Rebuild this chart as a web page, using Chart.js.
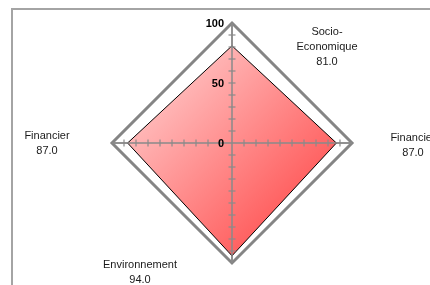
<!DOCTYPE html>
<html>
<head>
<meta charset="utf-8">
<script src="https://cdn.jsdelivr.net/npm/chart.js@4.4.0/dist/chart.umd.min.js"></script>
<style>
html, body { margin: 0; padding: 0; background: #fff; }
#wrap { position: relative; width: 430px; height: 285px; overflow: hidden; }
#frame { position: absolute; left: 11px; top: 8px; right: -5px; bottom: -5px;
  border-top: 2px solid #a4a4a4; border-left: 2px solid #a4a4a4; }
canvas { position: absolute; left: 0; top: 0; }
</style>
</head>
<body>
<div id="wrap">
  <div id="frame"></div>
  <canvas id="radarChart" width="430" height="285"></canvas>
</div>
<script>
// data
var categories = [["Socio-", "Economique"], ["Financier"], ["Environnement"], ["Financier"]];
var scores = [81, 87, 94, 87];
var tickLabels = [0, 50, 100];
var minorTicks = [10, 20, 30, 40, 50, 60, 70, 80, 90];

// where each category block sits, relative to the centre of the radar
var labelOffsets = [[95, -96], [181, 2], [-92, 129], [-185, 0]];

var radarDecor = {
	id: 'radarDecor',
	afterDatasetsDraw: function(chart) {
		var ctx = chart.ctx;
		var scale = chart.scales.r;
		var cx = scale.xCenter, cy = scale.yCenter;
		ctx.save();
		// axes drawn again over the filled area, with small tick marks
		ctx.strokeStyle = '#8a8a8a';
		for (var i = 0; i < scores.length; i++) {
			var end = scale.getPointPositionForValue(i, 100);
			ctx.lineWidth = 1.5;
			ctx.beginPath();
			ctx.moveTo(cx, cy);
			ctx.lineTo(end.x, end.y);
			ctx.stroke();
			var ang = scale.getIndexAngle(i) - Math.PI / 2;
			var px = -Math.sin(ang), py = Math.cos(ang);
			ctx.lineWidth = 1.2;
			minorTicks.forEach(function(v) {
				var p = scale.getPointPositionForValue(i, v);
				ctx.beginPath();
				ctx.moveTo(p.x - px * 3.5, p.y - py * 3.5);
				ctx.lineTo(p.x + px * 3.5, p.y + py * 3.5);
				ctx.stroke();
			});
		}
		// scale numbers along the vertical axis
		ctx.fillStyle = '#000';
		ctx.font = 'bold 11px "Liberation Sans", Arial, sans-serif';
		ctx.textAlign = 'right';
		ctx.textBaseline = 'middle';
		tickLabels.forEach(function(v) {
			var y = cy - scale.getDistanceFromCenterForValue(v);
			ctx.fillText(String(v), cx - 8, y + 1);
		});
		// category labels with values
		ctx.fillStyle = '#1a1a1a';
		ctx.font = '11px "Liberation Sans", Arial, sans-serif';
		ctx.textAlign = 'center';
		categories.forEach(function(lines, i) {
			var all = lines.concat([scores[i].toFixed(1)]);
			var bx = cx + labelOffsets[i][0], by = cy + labelOffsets[i][1];
			all.forEach(function(t, k) {
				ctx.fillText(t, bx, by + (k - (all.length - 1) / 2) * 15);
			});
		});
		ctx.restore();
	}
};

var ctx = document.getElementById("radarChart").getContext("2d");
var radarChart = new Chart(ctx, {
	type: 'radar',
	data: {
		labels: categories,
		datasets: [{
			label: 'Score',
			data: scores,
			backgroundColor: function(c) {
				var chart = c.chart;
				var s = chart.scales.r;
				if (!s || !isFinite(s.xCenter) || !isFinite(s.drawingArea)) return '#ff8080';
				var r = s.drawingArea;
				var g = chart.ctx.createLinearGradient(s.xCenter - r * 0.9, s.yCenter - r * 0.8, s.xCenter + r * 0.88, s.yCenter + r * 0.95);
				g.addColorStop(0, '#ffdcdc');
				g.addColorStop(1, '#ff3838');
				return g;
			},
			borderColor: '#000',
			borderWidth: 1,
			pointRadius: 0,
			fill: true
		}]
	},
	options: {
		responsive: false,
		animation: false,
		layout: { padding: { top: 23, bottom: 22, left: 34, right: 0 } },
		plugins: { legend: { display: false }, tooltip: { enabled: false } },
		scales: {
			r: {
				min: 0,
				max: 100,
				ticks: { display: false, stepSize: 100 },
				pointLabels: { display: false },
				grid: { color: '#858585', lineWidth: 3 },
				angleLines: { color: '#8a8a8a', lineWidth: 1.5 }
			}
		}
	},
	plugins: [radarDecor]
});
</script>
</body>
</html>
